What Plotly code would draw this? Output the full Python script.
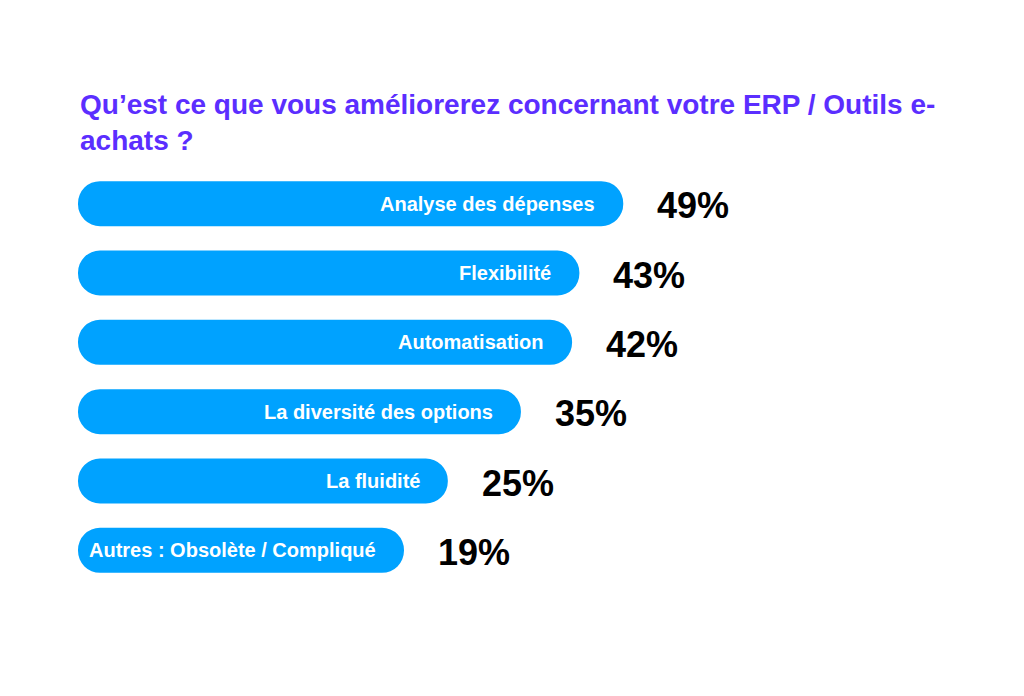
import plotly.graph_objects as go

categories = [
    "Analyse des dépenses",
    "Flexibilité",
    "Automatisation",
    "La diversité des options",
    "La fluidité",
    "Autres : Obsolète / Compliqué",
]
values = [49, 43, 42, 35, 25, 19]
pct_labels = [f"{v}%" for v in values]

title_text = "Qu’est ce que vous améliorerez concernant votre ERP / Outils e-<br>achats ?"

OFFSET = 25.6  # visual base of the pill bars (axis units)
BAR_COLOR = "#00A2FF"
TITLE_COLOR = "#5B2EFF"
FONT = "Liberation Sans, Arial, Helvetica, sans-serif"

fig = go.Figure()
fig.add_trace(
    go.Bar(
        y=categories,
        x=[v + OFFSET for v in values],
        base=-OFFSET,
        orientation="h",
        marker=dict(color=BAR_COLOR, cornerradius="50%", line=dict(width=0)),
        hoverinfo="skip",
    )
)

for cat, v, lab in zip(categories, values, pct_labels):
    fig.add_annotation(
        x=v, y=cat, xref="x", yref="y",
        text=f"<b>{cat}</b>", showarrow=False,
        xanchor="right", xshift=-26,
        font=dict(family=FONT, size=20, color="white"),
    )
    fig.add_annotation(
        x=v, y=cat, xref="x", yref="y",
        text=f"<b>{lab}</b>", showarrow=False,
        xanchor="left", xshift=32, yshift=-2,
        font=dict(family=FONT, size=36, color="black"),
    )

fig.update_layout(
    width=1024,
    height=696,
    paper_bgcolor="white",
    plot_bgcolor="white",
    showlegend=False,
    bargap=0.35,
    margin=dict(l=70, r=36, t=161, b=119),
    title=dict(
        text=f"<b>{title_text}</b>",
        xref="container", yref="container",
        x=72 / 1024, xanchor="left",
        y=1 - 106 / 696, yanchor="top",
        font=dict(family=FONT, size=28, color=TITLE_COLOR),
    ),
    xaxis=dict(range=[-OFFSET, 100], visible=False, showgrid=False, zeroline=False),
    yaxis=dict(
        categoryorder="array", categoryarray=categories,
        autorange="reversed", visible=False, showgrid=False, zeroline=False,
    ),
)

fig.write_html("out.html")
